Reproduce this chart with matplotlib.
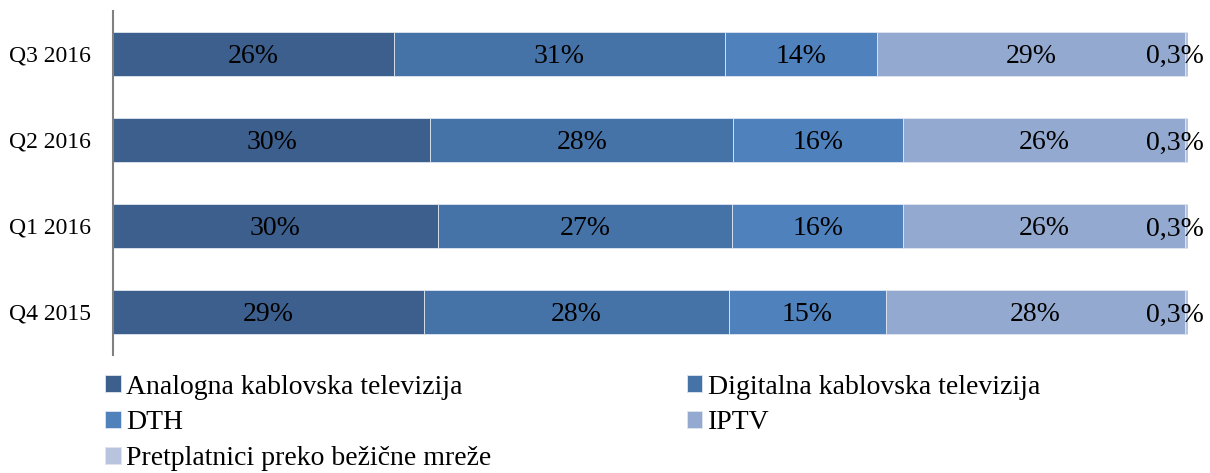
import matplotlib.pyplot as plt
import numpy as np

plt.rcParams['font.family'] = ['Liberation Serif', 'DejaVu Serif']

quarters = ["Q4 2015", "Q1 2016", "Q2 2016", "Q3 2016"]
series = ["Analogna kablovska televizija", "Digitalna kablovska televizija",
          "DTH", "IPTV", "Pretplatnici preko bežične mreže"]

analog = [28.9, 30.2, 29.5, 26.1]
digital = [28.4, 27.4, 28.2, 30.8]
dth = [14.6, 15.9, 15.8, 14.2]
iptv = [27.8, 26.2, 26.2, 28.6]
wireless = [0.3, 0.3, 0.3, 0.3]

colors = ['#3C5F8D', '#4573A7', '#4F81BD', '#94A9D0', '#B8C3DE']

fig = plt.figure(figsize=(12.1, 4.73), dpi=100)
ax = fig.add_axes([0.0934, 0.2495, 0.8884, 0.7275])

y = np.arange(len(quarters))
left = np.zeros(len(quarters))
handles = []
for name, vals, c in zip(series, [analog, digital, dth, iptv, wireless], colors):
    vals = np.array(vals)
    h = ax.barh(y, vals, left=left, height=0.51, color=c, edgecolor='#dfe5f0',
                linewidth=0.6, label=name)
    handles.append(h)
    for yi, l, v in zip(y, left, vals):
        if v < 1:
            txt = ("%.1f%%" % v).replace('.', ',')
            ax.annotate(txt, (l + v / 2, yi), xytext=(-8, 0), textcoords='offset points',
                        ha='center', va='center_baseline', fontsize=20)
        else:
            ax.text(l + v / 2, yi, "%.0f%%" % v, ha='center', va='center_baseline', fontsize=20)
    left += vals

ax.set_xlim(0, 100)
ax.set_ylim(-0.5, 3.5)
ax.set_yticks(y)
ax.set_yticklabels(quarters, fontsize=17)
ax.tick_params(axis='y', length=0, pad=16)
ax.set_xticks([])
for s in ['top', 'right', 'bottom']:
    ax.spines[s].set_visible(False)
ax.spines['left'].set_color('#808080')
ax.spines['left'].set_linewidth(1.5)

order = [0, 2, 4, 1, 3]
leg = fig.legend([handles[i] for i in order], [series[i] for i in order],
                 ncol=2, loc='upper left', bbox_to_anchor=(0.087, 0.208),
                 frameon=False, fontsize=20, handlelength=0.55, handleheight=0.55,
                 handletextpad=0.2, columnspacing=7.05, labelspacing=0.39,
                 borderaxespad=0, borderpad=0)

fig.savefig("out.png", dpi=100)
